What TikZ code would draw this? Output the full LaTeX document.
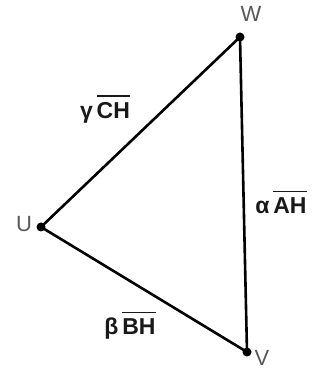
\documentclass[tikz,border=0pt]{standalone}
\usepackage{fontspec}
\setmainfont{Liberation Sans}
\newcommand\ovlbar[1]{\vbox{\hrule height 1.6pt\kern 6pt\hbox{#1}}}
\begin{document}
\begin{tikzpicture}[x=1pt,y=1pt,
  vtx/.style={circle,fill=black,inner sep=0pt,minimum size=9pt},
  side/.style={line width=2.6pt,black},
  ptlabel/.style={text=black!65,font=\fontsize{22}{22}\selectfont,inner sep=0pt},
  sidelabel/.style={text=black!90,font=\bfseries\fontsize{23}{23}\selectfont,inner sep=0pt}]
\useasboundingbox (0,0) rectangle (327,369);
\node[vtx] (W) at (240,332) {};
\node[vtx] (U) at (41,142) {};
\node[vtx] (V) at (247,17) {};
\draw[side] (U.center) -- (W.center);
\draw[side] (W.center) -- (V.center);
\draw[side] (V.center) -- (U.center);
\node[ptlabel] (lW) at (251,355) {W};
\node[ptlabel] (lU) at (24,145) {U};
\node[ptlabel] (lV) at (262,11) {V};
\node[sidelabel,anchor=base] (g) at (105,250) {γ\,\ovlbar{CH}};
\node[sidelabel,anchor=base] (a) at (281,155) {α\,\ovlbar{AH}};
\node[sidelabel,anchor=base] (b) at (130,34) {β\,\ovlbar{BH}};
\end{tikzpicture}
\end{document}
